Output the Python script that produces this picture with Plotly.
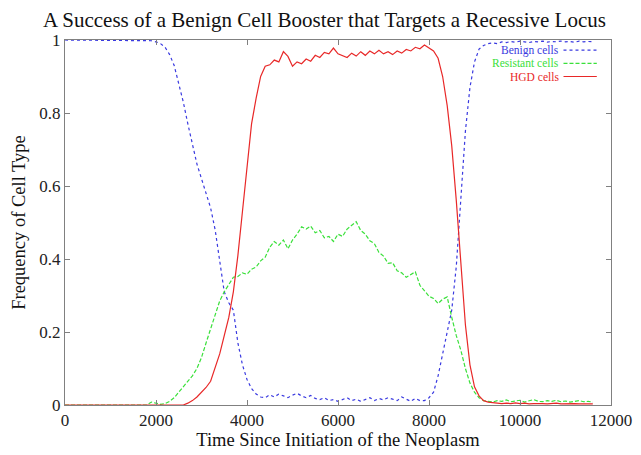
import plotly.graph_objects as go

time = list(range(0, 11700, 100))

benign = [1.0]*19 + [
    0.998, 0.995, 0.99, 0.98, 0.96, 0.93, 0.88, 0.83, 0.77, 0.71,   # 1900-2800
    0.66, 0.62, 0.58, 0.54, 0.48, 0.39, 0.31, 0.28, 0.26, 0.17,     # 2900-3800
    0.11, 0.07, 0.045, 0.03, 0.022, 0.02, 0.028, 0.022, 0.03, 0.025, # 3900-4800
    0.02, 0.027, 0.032, 0.025, 0.02, 0.026, 0.018, 0.015, 0.02, 0.012, # 4900-5800
    0.015, 0.01, 0.014, 0.02, 0.012, 0.016, 0.01, 0.015, 0.02, 0.012,  # 5900-6800
    0.018, 0.014, 0.02, 0.016, 0.012, 0.022, 0.015, 0.01, 0.018, 0.012, # 6900-7800
    0.012, 0.02, 0.035, 0.08, 0.14, 0.2, 0.26, 0.38, 0.57, 0.75,   # 7900-8800
    0.87, 0.94, 0.975, 0.985, 0.99, 0.992, 0.99, 0.995, 0.993, 0.996, # 8900-9800
    0.994, 0.997, 0.995, 0.993, 0.996, 0.995, 0.997, 0.994, 0.996, 0.995, # 9900-10800
    0.997, 0.995, 0.996, 0.994, 0.997, 0.995, 0.996, 0.995           # 10900-11600
]

resistant = [0.0]*19 + [
    0.008, 0.005, 0.002, 0.004, 0.01, 0.02, 0.035, 0.05, 0.065, 0.08,  # 1900-2800
    0.1, 0.13, 0.17, 0.21, 0.25, 0.285, 0.31,                          # 2900-3500
    0.33, 0.35, 0.352, 0.362, 0.358, 0.372, 0.378, 0.395, 0.405, 0.432, # 3600-4500
    0.448, 0.438, 0.452, 0.428, 0.452, 0.468, 0.488, 0.482, 0.49, 0.472, # 4600-5500
    0.478, 0.458, 0.462, 0.448, 0.468, 0.462, 0.482, 0.492, 0.502, 0.478, # 5600-6500
    0.468, 0.45, 0.442, 0.418, 0.408, 0.388, 0.39, 0.368, 0.362, 0.35,   # 6600-7500
    0.358, 0.365, 0.328, 0.312, 0.298, 0.292, 0.278, 0.29, 0.296,        # 7600-8400
    0.24, 0.19, 0.15, 0.1,                                               # 8500-8800
    0.06, 0.035, 0.02, 0.012, 0.01, 0.008, 0.012, 0.01, 0.014, 0.009,  # 8900-9800
    0.011, 0.013, 0.008, 0.012, 0.015, 0.01, 0.009, 0.012, 0.01, 0.013, # 9900-10800
    0.009, 0.011, 0.008, 0.01, 0.012, 0.009, 0.01, 0.008               # 10900-11600
]

hgd = [0.0]*27 + [
    0.005, 0.012, 0.022, 0.035, 0.048, 0.065, 0.1, 0.14, 0.19, 0.24,   # 2700-3600
    0.31, 0.41, 0.53, 0.66, 0.77, 0.84,                                # 3700-4200
    0.9, 0.928, 0.932, 0.945, 0.94, 0.968, 0.955, 0.928, 0.94, 0.935,  # 4300-5200
    0.948, 0.942, 0.958, 0.952, 0.966, 0.962, 0.978, 0.962, 0.958, 0.952, # 5300-6200
    0.964, 0.956, 0.968, 0.958, 0.97, 0.962, 0.972, 0.962, 0.968, 0.96,  # 6300-7200
    0.97, 0.964, 0.974, 0.97, 0.98, 0.976, 0.986, 0.978,                 # 7300-8000
    0.97, 0.95, 0.9, 0.82, 0.71, 0.56,                                   # 8100-8600
    0.4, 0.22, 0.11, 0.05, 0.025, 0.012, 0.008, 0.006, 0.005, 0.004,    # 8700-9600
    0.005, 0.004, 0.006, 0.004, 0.005, 0.003, 0.004, 0.005, 0.004, 0.003, # 9700-10600
    0.004, 0.005, 0.003, 0.004, 0.003, 0.004, 0.003, 0.004, 0.003, 0.003  # 10700-11600
]

x_ticks = [0, 2000, 4000, 6000, 8000, 10000, 12000]
x_tick_labels = ["0", "2000", "4000", "6000", "8000", "10000", "12000"]
y_ticks = [0, 0.2, 0.4, 0.6, 0.8, 1]
y_tick_labels = ["0", "0.2", "0.4", "0.6", "0.8", "1"]

names = ["Benign cells", "Resistant cells", "HGD cells"]
colors = ["#3a3ae0", "#3ae03a", "#e82828"]
dashes = ["dot", "4px,2px", "solid"]

fig = go.Figure()
for name, vals, col, dsh in zip(names, [benign, resistant, hgd], colors, dashes):
    fig.add_trace(go.Scatter(x=time, y=vals, mode="lines", name=name,
                             line=dict(color=col, width=1.2, dash=dsh),
                             showlegend=False))

# gnuplot-style legend: text then sample line
ly = [0.972, 0.936, 0.900]
for name, col, dsh, yy in zip(names, colors, dashes, ly):
    fig.add_annotation(xref="paper", yref="paper", x=0.907, y=yy, text=name,
                       showarrow=False, xanchor="right", yanchor="middle",
                       borderpad=0,
                       font=dict(family="Liberation Serif", size=11.5, color=col))
    fig.add_shape(type="line", xref="paper", yref="paper", x0=0.913, x1=0.974,
                  y0=yy, y1=yy, line=dict(color=col, width=1.2, dash=dsh))

axis_common = dict(showline=True, linecolor="#808080", linewidth=1, mirror="ticks",
                   ticks="inside", ticklen=5, tickcolor="#808080", showgrid=False,
                   zeroline=False, automargin=False,
                   tickfont=dict(family="Liberation Serif", size=17, color="#222"))

fig.update_layout(
    width=633, height=447,
    margin=dict(l=57, r=30, t=32, b=50),
    paper_bgcolor="white", plot_bgcolor="white",
    title=dict(text="A Success of a Benign Cell Booster that Targets a Recessive Locus",
               x=0.5, xanchor="center", y=0.974, yanchor="middle",
               font=dict(family="Liberation Serif", size=21, color="#111")),
    xaxis=dict(range=[0, 12000], tickvals=x_ticks, ticktext=x_tick_labels, **axis_common,
               title=dict(text="Time Since Initiation of the Neoplasm", standoff=2,
                          font=dict(family="Liberation Serif", size=18.5, color="#111"))),
    yaxis=dict(range=[0, 1], tickvals=y_ticks, ticktext=y_tick_labels, **axis_common,
               title=dict(text="Frequency of Cell Type", standoff=8,
                          font=dict(family="Liberation Serif", size=18.5, color="#111"))),
)

fig.write_html("out.html")
